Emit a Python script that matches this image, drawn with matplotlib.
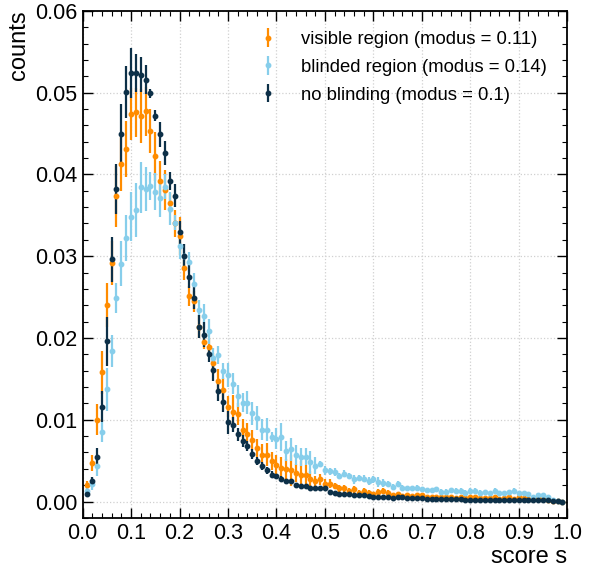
"""Score distribution: visible vs blinded region vs no blinding."""

import matplotlib

matplotlib.use("Agg")
import matplotlib.pyplot as plt
from matplotlib.ticker import MultipleLocator, FormatStrFormatter


# bin positions (score s) -- points sit at 0.01 .. 0.99
scores = [round(0.01 * k, 2) for k in range(1, 100)]

visible = [
    0.0020, 0.0047, 0.0100, 0.0158, 0.0240, 0.0292, 0.0373, 0.0413, 0.0431, 0.0474,
    0.0476, 0.0472, 0.0477, 0.0453, 0.0422, 0.0392, 0.0381, 0.0365, 0.0340, 0.0325,
    0.0286, 0.0251, 0.0245, 0.0214, 0.0195, 0.0189, 0.0169, 0.0147, 0.0136, 0.0116,
    0.0110, 0.0107, 0.0088, 0.0083, 0.0075, 0.0066, 0.0057, 0.0057, 0.0050, 0.0045,
    0.0041, 0.0040, 0.0038, 0.0035, 0.0032, 0.0033, 0.0028, 0.0025, 0.0027, 0.0022,
    0.0022, 0.0019, 0.0016, 0.0016, 0.0013, 0.0015, 0.0011, 0.0013, 0.0011, 0.0009,
    0.0012, 0.0013, 0.0011, 0.0008, 0.0009, 0.0007, 0.0008, 0.0007, 0.0008, 0.0008,
    0.0006, 0.0006, 0.0005, 0.0005, 0.0006, 0.0005, 0.0004, 0.0005, 0.0004, 0.0005,
    0.0005, 0.0004, 0.0004, 0.0004, 0.0005, 0.0003, 0.0004, 0.0006, 0.0003, 0.0005,
    0.0004, 0.0003, 0.0003, 0.0004, 0.0003, 0.0002, 0.0001, 0.0001, 0.0000,
]
visible_err = [
    0.0005, 0.0010, 0.0019, 0.0026, 0.0027, 0.0027, 0.0037, 0.0033, 0.0034, 0.0032,
    0.0030, 0.0033, 0.0030, 0.0027, 0.0030, 0.0025, 0.0025, 0.0012, 0.0016, 0.0023,
    0.0015, 0.0012, 0.0013, 0.0014, 0.0009, 0.0011, 0.0013, 0.0015, 0.0015, 0.0013,
    0.0020, 0.0014, 0.0013, 0.0013, 0.0012, 0.0011, 0.0013, 0.0014, 0.0011, 0.0012,
    0.0013, 0.0012, 0.0019, 0.0011, 0.0017, 0.0012, 0.0009, 0.0006, 0.0007, 0.0005,
    0.0005, 0.0004, 0.0004, 0.0004, 0.0003, 0.0004, 0.0003, 0.0004, 0.0003, 0.0003,
    0.0003, 0.0003, 0.0003, 0.0002, 0.0003, 0.0002, 0.0002, 0.0002, 0.0002, 0.0002,
    0.0002, 0.0002, 0.0002, 0.0002, 0.0002, 0.0002, 0.0002, 0.0002, 0.0002, 0.0002,
    0.0002, 0.0002, 0.0002, 0.0002, 0.0002, 0.0002, 0.0002, 0.0003, 0.0002, 0.0002,
    0.0002, 0.0002, 0.0002, 0.0002, 0.0001, 0.0001, 0.0001, 0.0001, 0.0001,
]

blinded = [
    0.0013, 0.0022, 0.0043, 0.0085, 0.0137, 0.0184, 0.0249, 0.0291, 0.0322, 0.0348,
    0.0357, 0.0384, 0.0382, 0.0386, 0.0379, 0.0371, 0.0385, 0.0358, 0.0341, 0.0312,
    0.0300, 0.0293, 0.0266, 0.0234, 0.0227, 0.0208, 0.0176, 0.0179, 0.0160, 0.0155,
    0.0144, 0.0129, 0.0121, 0.0121, 0.0108, 0.0102, 0.0088, 0.0088, 0.0079, 0.0077,
    0.0079, 0.0062, 0.0064, 0.0057, 0.0054, 0.0055, 0.0048, 0.0044, 0.0046, 0.0038,
    0.0037, 0.0036, 0.0031, 0.0034, 0.0031, 0.0027, 0.0029, 0.0028, 0.0025, 0.0027,
    0.0024, 0.0023, 0.0022, 0.0018, 0.0022, 0.0017, 0.0016, 0.0016, 0.0017, 0.0015,
    0.0014, 0.0014, 0.0015, 0.0012, 0.0012, 0.0014, 0.0013, 0.0013, 0.0011, 0.0013,
    0.0013, 0.0011, 0.0012, 0.0010, 0.0013, 0.0011, 0.0011, 0.0012, 0.0013, 0.0010,
    0.0011, 0.0009, 0.0006, 0.0008, 0.0008, 0.0005, 0.0002, 0.0001, 0.0000,
]
blinded_err = [
    0.0004, 0.0008, 0.0012, 0.0012, 0.0026, 0.0020, 0.0018, 0.0027, 0.0028, 0.0030,
    0.0033, 0.0031, 0.0027, 0.0017, 0.0023, 0.0023, 0.0015, 0.0020, 0.0009, 0.0016,
    0.0015, 0.0012, 0.0013, 0.0013, 0.0015, 0.0015, 0.0012, 0.0011, 0.0010, 0.0015,
    0.0013, 0.0014, 0.0012, 0.0014, 0.0014, 0.0015, 0.0013, 0.0014, 0.0006, 0.0013,
    0.0017, 0.0012, 0.0014, 0.0012, 0.0011, 0.0010, 0.0014, 0.0010, 0.0004, 0.0005,
    0.0004, 0.0005, 0.0004, 0.0004, 0.0004, 0.0005, 0.0004, 0.0004, 0.0005, 0.0004,
    0.0006, 0.0005, 0.0003, 0.0003, 0.0003, 0.0003, 0.0003, 0.0003, 0.0003, 0.0003,
    0.0003, 0.0003, 0.0003, 0.0003, 0.0003, 0.0003, 0.0003, 0.0003, 0.0003, 0.0003,
    0.0003, 0.0003, 0.0002, 0.0002, 0.0003, 0.0002, 0.0002, 0.0002, 0.0003, 0.0002,
    0.0002, 0.0002, 0.0002, 0.0002, 0.0002, 0.0002, 0.0001, 0.0001, 0.0001,
]

no_blinding = [
    0.0009, 0.0025, 0.0055, 0.0116, 0.0196, 0.0296, 0.0382, 0.0450, 0.0501, 0.0524,
    0.0524, 0.0522, 0.0516, 0.0499, 0.0472, 0.0449, 0.0426, 0.0392, 0.0374, 0.0329,
    0.0300, 0.0275, 0.0249, 0.0214, 0.0204, 0.0180, 0.0161, 0.0135, 0.0122, 0.0097,
    0.0094, 0.0082, 0.0074, 0.0068, 0.0058, 0.0050, 0.0043, 0.0038, 0.0033, 0.0031,
    0.0028, 0.0025, 0.0025, 0.0020, 0.0019, 0.0019, 0.0016, 0.0016, 0.0016, 0.0016,
    0.0012, 0.0011, 0.0009, 0.0009, 0.0009, 0.0008, 0.0008, 0.0008, 0.0007, 0.0006,
    0.0006, 0.0006, 0.0005, 0.0004, 0.0005, 0.0005, 0.0004, 0.0004, 0.0004, 0.0004,
    0.0003, 0.0003, 0.0003, 0.0003, 0.0003, 0.0003, 0.0003, 0.0003, 0.0002, 0.0002,
    0.0002, 0.0002, 0.0002, 0.0002, 0.0002, 0.0002, 0.0002, 0.0002, 0.0002, 0.0002,
    0.0002, 0.0002, 0.0002, 0.0002, 0.0002, 0.0002, 0.0001, 0.0001, 0.0000,
]
no_blinding_err = [
    0.0003, 0.0005, 0.0010, 0.0019, 0.0030, 0.0027, 0.0031, 0.0036, 0.0032, 0.0030,
    0.0023, 0.0021, 0.0018, 0.0006, 0.0007, 0.0015, 0.0015, 0.0011, 0.0014, 0.0014,
    0.0015, 0.0014, 0.0014, 0.0014, 0.0015, 0.0009, 0.0014, 0.0012, 0.0013, 0.0014,
    0.0009, 0.0008, 0.0007, 0.0006, 0.0006, 0.0005, 0.0005, 0.0004, 0.0004, 0.0003,
    0.0003, 0.0003, 0.0003, 0.0003, 0.0003, 0.0003, 0.0002, 0.0002, 0.0002, 0.0002,
    0.0002, 0.0002, 0.0002, 0.0002, 0.0002, 0.0001, 0.0001, 0.0001, 0.0001, 0.0001,
    0.0001, 0.0001, 0.0001, 0.0001, 0.0001, 0.0001, 0.0001, 0.0001, 0.0001, 0.0001,
    0.0001, 0.0001, 0.0001, 0.0001, 0.0001, 0.0001, 0.0001, 0.0001, 0.0001, 0.0001,
    0.0001, 0.0001, 0.0001, 0.0001, 0.0001, 0.0001, 0.0001, 0.0001, 0.0001, 0.0001,
    0.0001, 0.0001, 0.0001, 0.0001, 0.0001, 0.0001, 0.0001, 0.0001, 0.0001,
]

series = [
    ("visible region (modus = 0.11)", visible, visible_err, "#ff8c00"),
    ("blinded region (modus = 0.14)", blinded, blinded_err, "#87ceeb"),
    ("no blinding (modus = 0.1)", no_blinding, no_blinding_err, "#0d3048"),
]


def main() -> None:
    plt.rcParams["font.family"] = ["Liberation Sans", "DejaVu Sans"]
    fig = plt.figure(figsize=(5.94, 5.71), dpi=100)
    ax = fig.add_axes([0.139, 0.093, 0.816, 0.888])

    for label, values, errs, color in series:
        ax.errorbar(scores, values, yerr=errs, fmt="o", color=color, ecolor=color,
                    markersize=3.2, elinewidth=1.6, capsize=0, label=label)

    ax.set_xlim(0, 1)
    ax.set_ylim(-0.002, 0.06)
    ax.xaxis.set_major_locator(MultipleLocator(0.1))
    ax.xaxis.set_minor_locator(MultipleLocator(0.02))
    ax.yaxis.set_major_locator(MultipleLocator(0.01))
    ax.yaxis.set_minor_locator(MultipleLocator(0.002))
    ax.xaxis.set_major_formatter(FormatStrFormatter("%.1f"))
    ax.yaxis.set_major_formatter(FormatStrFormatter("%.2f"))
    ax.tick_params(which="both", direction="in", top=True, right=True, labelsize=15.5)
    ax.tick_params(which="major", length=7, width=1.0)
    ax.tick_params(which="minor", length=3.5, width=0.8)
    ax.tick_params(axis="x", pad=4)
    for spine in ax.spines.values():
        spine.set_linewidth(1.3)
    ax.grid(True, which="major", linestyle=":", color="#d0d0d0", linewidth=0.9)

    ax.set_xlabel("score s", loc="right", fontsize=17, labelpad=1)
    ax.set_ylabel("counts", loc="top", fontsize=17)

    ax.legend(loc="upper right", frameon=False, fontsize=13.3, handlelength=1.2,
              handletextpad=1.2, labelspacing=0.58, borderaxespad=0.7)

    fig.savefig("out.png", dpi=100)
    plt.close(fig)


if __name__ == "__main__":
    main()
